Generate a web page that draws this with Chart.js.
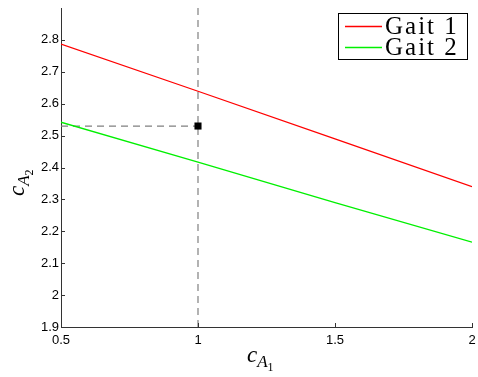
<!DOCTYPE html>
<html>
<head>
<meta charset="utf-8">
<script src="https://cdn.jsdelivr.net/npm/chart.js@4"></script>
<style>
  html, body { margin: 0; padding: 0; background: #fff; }
  #wrap { width: 478px; height: 377px; }
</style>
</head>
<body>
<div id="wrap"><canvas id="chart"></canvas></div>
<script>
// valores
var cA1 = [0.5, 1, 1.5, 2];
var gait1 = [2.787, 2.639, 2.49, 2.34];
var gait2 = [2.542, 2.417, 2.29, 2.166];
var seriesLabels = ['Gait 1', 'Gait 2'];
var chosenPoint = { x: 1, y: 2.53 };
var xTicks = [0.5, 1, 1.5, 2];
var yTicks = [1.9, 2, 2.1, 2.2, 2.3, 2.4, 2.5, 2.6, 2.7, 2.8];

function toPoints(xs, ys) {
    return xs.map(function (x, i) { return { x: x, y: ys[i] }; });
}

// dibuja c_{A_n} con subindices
function drawSubLabel(ctx, x, y, sub) {
    var parts = [
        { t: 'c', font: 'italic 23px "Liberation Serif"', dy: 0 },
        { t: 'A', font: 'italic 17px "Liberation Serif"', dy: 5 },
        { t: sub, font: '12px "Liberation Serif"', dy: 9 }
    ];
    var cx = x;
    parts.forEach(function (p) {
        ctx.font = p.font;
        ctx.fillText(p.t, cx, y + p.dy);
        cx += ctx.measureText(p.t).width;
    });
}

var extras = {
    id: 'extras',
    afterDraw: function (chart) {
        var ctx = chart.ctx;
        var xs = chart.scales.x, ys = chart.scales.y;
        var area = chart.chartArea;
        ctx.save();
        // marcas hacia adentro
        ctx.strokeStyle = '#333';
        ctx.lineWidth = 1;
        ctx.beginPath();
        yTicks.forEach(function (v) {
            var p = Math.round(ys.getPixelForValue(v)) + 0.5;
            ctx.moveTo(area.left, p);
            ctx.lineTo(area.left + 4, p);
        });
        xTicks.forEach(function (v) {
            var p = Math.round(xs.getPixelForValue(v)) + 0.5;
            ctx.moveTo(p, area.bottom);
            ctx.lineTo(p, area.bottom - 4);
        });
        ctx.stroke();

        // etiquetas de ejes
        ctx.fillStyle = '#000';
        ctx.textBaseline = 'alphabetic';
        ctx.textAlign = 'left';
        drawSubLabel(ctx, 247, 362, '1');
        ctx.save();
        ctx.translate(24, 196);
        ctx.rotate(-Math.PI / 2);
        drawSubLabel(ctx, 0, 0, '2');
        ctx.restore();

        // leyenda con recuadro
        var bx = 338, by = 13, bw = 129, bh = 46;
        ctx.fillStyle = '#fff';
        ctx.fillRect(bx, by, bw, bh);
        ctx.strokeStyle = '#000';
        ctx.strokeRect(bx + 0.5, by + 0.5, bw, bh);
        var sets = [chart.data.datasets[0], chart.data.datasets[1]];
        sets.forEach(function (ds, i) {
            var ly = by + 13 + i * 21;
            ctx.strokeStyle = ds.borderColor;
            ctx.lineWidth = 1.5;
            ctx.beginPath();
            ctx.moveTo(bx + 7, ly + 0.5);
            ctx.lineTo(bx + 44, ly + 0.5);
            ctx.stroke();
            ctx.fillStyle = '#000';
            ctx.font = '25px "Liberation Serif"';
            ctx.letterSpacing = '2px';
            ctx.textBaseline = 'middle';
            ctx.fillText(ds.label, bx + 47, ly + 1);
            ctx.letterSpacing = '0px';
        });
        ctx.restore();
    }
};

var ctx = document.getElementById('chart').getContext('2d');
var chart = new Chart(ctx, {
    type: 'scatter',
    data: {
        datasets: [{
            label: seriesLabels[0],
            data: toPoints(cA1, gait1),
            showLine: true,
            borderColor: '#ff0000',
            borderWidth: 1.3,
            pointRadius: 0,
            order: 2
        }, {
            label: seriesLabels[1],
            data: toPoints(cA1, gait2),
            showLine: true,
            borderColor: '#00f000',
            borderWidth: 1.3,
            pointRadius: 0,
            order: 2
        }, {
            label: 'vertical',
            data: [{ x: chosenPoint.x, y: 1.9 }, { x: chosenPoint.x, y: 2.9 }],
            showLine: true,
            borderColor: '#808080',
            borderWidth: 1.2,
            borderDash: [7, 5],
            pointRadius: 0,
            order: 3
        }, {
            label: 'horizontal',
            data: [{ x: 0.5, y: chosenPoint.y }, { x: chosenPoint.x, y: chosenPoint.y }],
            showLine: true,
            borderColor: '#808080',
            borderWidth: 1.2,
            borderDash: [7, 5],
            pointRadius: 0,
            order: 3
        }, {
            label: 'punto',
            data: [chosenPoint],
            pointStyle: 'rect',
            pointRadius: 5,
            backgroundColor: '#000',
            borderColor: '#000',
            borderWidth: 0,
            order: 1
        }]
    },
    options: {
        responsive: true,
        maintainAspectRatio: false,
        animation: false,
        layout: { padding: { top: 8, right: 6, left: 0, bottom: 0 } },
        plugins: {
            legend: { display: false },
            tooltip: { enabled: false }
        },
        scales: {
            x: {
                type: 'linear',
                min: 0.5,
                max: 2,
                border: { display: true, color: '#333', width: 1 },
                grid: { display: false, drawTicks: false },
                afterBuildTicks: function (scale) {
                    scale.ticks = xTicks.map(function (v) { return { value: v }; });
                },
                ticks: {
                    padding: 6,
                    color: '#000',
                    maxRotation: 0,
                    font: { family: '"Liberation Sans"', size: 13 },
                    callback: function (v) { return String(Number(v.toFixed(1))); }
                },
                afterFit: function (scale) {
                    scale.height = 50;
                    scale.paddingLeft = 0;
                    scale.paddingRight = 0;
                }
            },
            y: {
                type: 'linear',
                min: 1.9,
                max: 2.9,
                border: { display: true, color: '#333', width: 1 },
                grid: { display: false, drawTicks: false },
                afterBuildTicks: function (scale) {
                    scale.ticks = yTicks.map(function (v) { return { value: v }; });
                },
                ticks: {
                    padding: 2,
                    color: '#000',
                    font: { family: '"Liberation Sans"', size: 13 },
                    callback: function (v) { return String(Number(v.toFixed(1))); }
                },
                afterFit: function (scale) {
                    scale.width = 61;
                    scale.paddingTop = 0;
                    scale.paddingBottom = 0;
                }
            }
        }
    },
    plugins: [extras]
});
</script>
</body>
</html>
